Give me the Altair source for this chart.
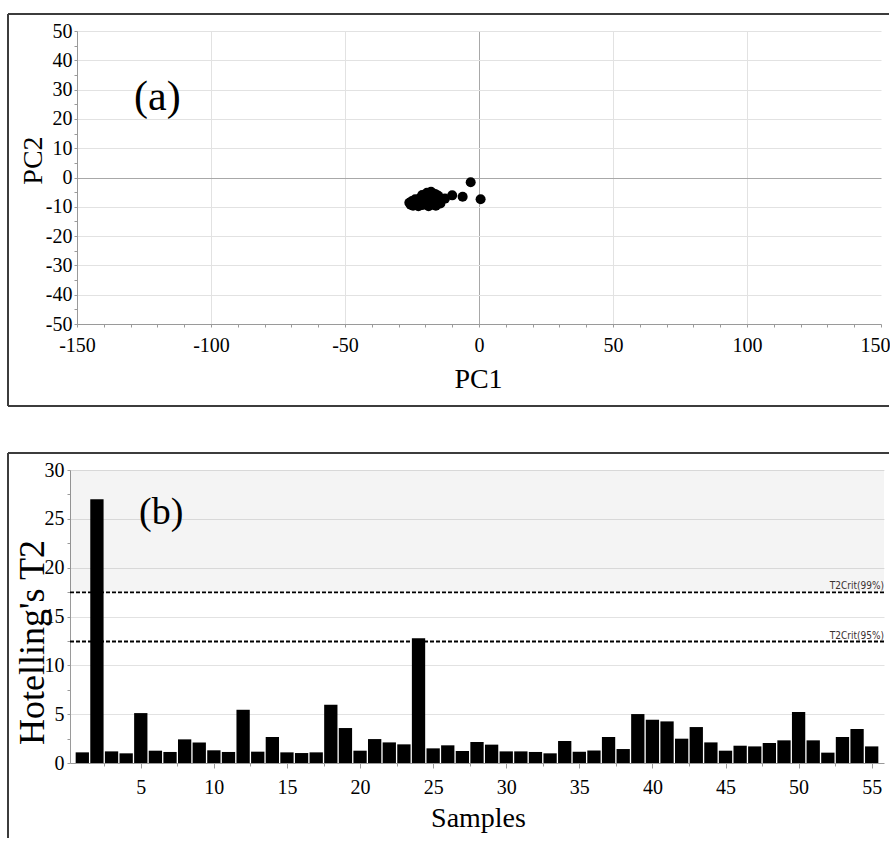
import altair as alt
import pandas as pd

# ---------------- data ----------------
# Panel (a): PCA scores
pc1 = [-3.1, 0.6, -6.1, -10.0, -12.7,
       -26.0, -25.5, -25.0, -24.6, -24.2, -23.8, -23.4, -23.0, -22.6, -22.2,
       -21.8, -21.4, -21.0, -20.6, -20.2, -19.8, -19.4, -19.0, -18.8, -18.5,
       -18.2, -17.9, -17.6, -17.3, -17.0, -16.7, -16.4, -16.1, -15.8, -15.5,
       -15.2, -14.8, -14.4,
       -24.8, -23.6, -22.9, -21.6, -20.9, -20.4, -19.6, -19.2, -18.6, -18.0,
       -17.4, -16.9, -16.2, -15.6, -20.0, -21.2, -19.0]
pc2 = [-1.6, -7.4, -6.6, -6.1, -7.2,
       -8.6, -9.3, -8.0, -9.6, -8.4, -7.4, -9.0, -8.1, -9.8, -7.2,
       -8.6, -6.8, -9.4, -7.8, -6.2, -8.8, -5.2, -7.0, -9.8, -6.0,
       -8.2, -4.9, -7.4, -9.2, -6.5, -8.0, -5.6, -9.6, -7.0, -8.6,
       -6.2, -7.8, -8.9,
       -8.8, -8.5, -8.9, -7.6, -8.3, -9.0, -6.6, -8.0, -7.4, -6.8,
       -8.4, -7.6, -7.2, -7.6, -7.4, -6.0, -9.2]

# Panel (b): Hotelling's T2 per sample
samples = list(range(1, 56))
t2 = [1.09, 27.0, 1.19, 0.99, 5.11, 1.26, 1.13, 2.42, 2.11, 1.30,
      1.13, 5.45, 1.16, 2.66, 1.09, 1.02, 1.09, 5.97, 3.58, 1.26,
      2.45, 2.11, 1.91, 12.78, 1.50, 1.81, 1.23, 2.15, 1.88, 1.19,
      1.19, 1.13, 0.99, 2.25, 1.16, 1.28, 2.66, 1.43, 5.01, 4.43,
      4.26, 2.49, 3.68, 2.11, 1.26, 1.77, 1.70, 2.05, 2.32, 5.22,
      2.32, 1.06, 2.66, 3.48, 1.70]
crit_labels = ["T2Crit(99%)", "T2Crit(95%)"]
crit_values = [17.46, 12.44]

# panel tags (text, x, y in data units)
tag_a = ["(a)", -120.0, 27.5]
tag_b = ["(b)", 6.4, 25.6]

scores = pd.DataFrame({"PC1": pc1, "PC2": pc2})
hot = pd.DataFrame({"Sample": samples, "T2": t2})
crit = pd.DataFrame({"label": crit_labels, "T2": crit_values})
tag_a_df = pd.DataFrame({"t": [tag_a[0]], "PC1": [tag_a[1]], "PC2": [tag_a[2]]})
tag_b_df = pd.DataFrame({"t": [tag_b[0]], "Sample": [tag_b[1]], "T2": [tag_b[2]]})

# ---------------- style ----------------
SERIF = "Liberation Serif"
NARROW = "Liberation Sans Narrow, Arial Narrow, DejaVu Sans Condensed, Liberation Sans, sans-serif"
AX_GRAY = "#9a9a9a"
GRID = "#e2e2e2"
ZERO = "#a8a8a8"
FRAME = "#3c3c3c"

WA, HA = 811, 293
WB, HB = 814, 293
one = alt.Data(values=[{"k": 0}])


def vline(x, y1, y2):
    return alt.Chart(one).mark_rule(color=FRAME, strokeWidth=2).encode(
        x=alt.value(x), y=alt.value(y1), y2=alt.value(y2))


def hline(y, x1, x2):
    return alt.Chart(one).mark_rule(color=FRAME, strokeWidth=2).encode(
        y=alt.value(y), x=alt.value(x1), x2=alt.value(x2))


# ---------------- panel (a) ----------------
xa = alt.X(
    "PC1:Q",
    scale=alt.Scale(domain=[-150, 150], range=[7, WA], nice=False, zero=False),
    axis=alt.Axis(
        title="PC1",
        values=list(range(-150, 151, 10)),
        tickCount=500,
        labelOverlap=False,
        labelExpr="datum.value % 50 === 0 ? '' + datum.value : ''",
        labelAlign={"condition": {"test": "datum.value === 150", "value": "right"}, "value": "center"},
        labelOffset={"condition": {"test": "datum.value === 150", "value": 9}, "value": 0},
        gridOpacity={"condition": {"test": "datum.value % 50 === 0 && abs(datum.value) < 150", "value": 1}, "value": 0},
        gridColor={"condition": {"test": "datum.value === 0", "value": ZERO}, "value": GRID},
        labelPadding=8,
        titleColor="black",
        titleX=408, titleY=55, titleBaseline="middle",
    ),
)
ya = alt.Y(
    "PC2:Q",
    scale=alt.Scale(domain=[-50, 50], nice=False, zero=False),
    axis=alt.Axis(
        title="PC2",
        values=list(range(-50, 51, 5)),
        tickCount=500,
        offset=-7,
        labelOverlap=False,
        labelExpr="datum.value % 10 === 0 ? '' + datum.value : ''",
        gridOpacity={"condition": {"test": "datum.value % 10 === 0 && datum.value > -50", "value": 1}, "value": 0},
        gridColor={"condition": {"test": "datum.value === 0", "value": ZERO}, "value": GRID},
        labelPadding=2,
        titleColor="black",
        titleX=-44, titleY=129, titleAngle=-90, titleAlign="center", titleBaseline="middle",
    ),
)

points = alt.Chart(scores).mark_circle(size=100, color="black", opacity=1).encode(x=xa, y=ya)
label_a = alt.Chart(tag_a_df).mark_text(font=SERIF, fontSize=42, color="black",
                                        align="center", baseline="middle").encode(
    x="PC1:Q", y="PC2:Q", text="t:N")

panel_a = alt.layer(
    vline(-62, -17, 375), hline(-17, -62, 819), hline(375, -62, 819),
    points, label_a,
).properties(width=WA, height=HA)

# ---------------- panel (b) ----------------
xb = alt.X(
    "Sample:Q",
    scale=alt.Scale(domain=[0.5, 55.5], nice=False, zero=False),
    axis=alt.Axis(
        title="Samples",
        values=[2.5 * i for i in range(1, 23)],
        tickCount=500,
        grid=False,
        labelOverlap=False,
        labelExpr="datum.value % 5 === 0 ? '' + datum.value : ''",
        tickSize={"condition": {"test": "datum.value % 5 === 0", "value": 5}, "value": 3},
        labelPadding=9,
        titleColor="black",
        titleX=408, titleY=55, titleBaseline="middle",
    ),
)
yb = alt.Y(
    "T2:Q",
    scale=alt.Scale(domain=[0, 30], nice=False),
    axis=alt.Axis(
        title="Hotelling's T2",
        values=[2.5 * i for i in range(0, 13)],
        tickCount=500,
        labelOverlap=False,
        labelExpr="datum.value % 5 === 0 ? '' + datum.value : ''",
        gridOpacity={"condition": {"test": "datum.value % 5 === 0 && datum.value > 0", "value": 1}, "value": 0},
        gridColor=GRID,
        labelPadding=3,
        titleFontSize=36,
        titleColor="black",
        titleX=-38, titleY=172, titleAngle=-90, titleAlign="center", titleBaseline="middle",
    ),
)

shade = alt.Chart(crit).transform_filter(alt.datum.label == "T2Crit(99%)").mark_rect(
    color="black", opacity=0.045).encode(
    y=alt.Y("T2:Q"), y2=alt.value(0), x=alt.value(0), x2=alt.value(WB))
dashes = alt.Chart(crit).mark_rule(color="black", strokeDash=[4, 2], strokeWidth=1.8).encode(
    y=alt.Y("T2:Q"), x=alt.value(0), x2=alt.value(WB))
crit_text = alt.Chart(crit).mark_text(font=NARROW, fontSize=10, color="#3a3030",
                                      align="right", baseline="bottom", dy=-1).encode(
    y=alt.Y("T2:Q"), x=alt.value(WB), text="label:N")
bars = alt.Chart(hot).mark_bar(size=13.3, color="black").encode(x=xb, y=yb)
label_b = alt.Chart(tag_b_df).mark_text(font=SERIF, fontSize=38, color="black",
                                        align="center", baseline="middle").encode(
    x="Sample:Q", y="T2:Q", text="t:N")

panel_b = alt.layer(
    vline(-62, -17, 368), hline(-17, -62, 819),
    shade, dashes, crit_text, bars, label_b,
).properties(width=WB, height=HB)

chart = alt.vconcat(panel_a, panel_b, spacing=45).properties(
    padding={"left": 7, "top": 13, "right": 0, "bottom": 0},
    background="white",
).configure_view(stroke=None).configure_axis(
    labelFont=SERIF, labelFontSize=20, labelColor="black",
    titleFont=SERIF, titleFontSize=28, titleFontWeight="normal", titleColor="black",
    domainColor=AX_GRAY, tickColor=AX_GRAY, tickSize=3, gridWidth=1,
)

chart.save("out.html", embed_options={"renderer": "svg", "actions": False})
